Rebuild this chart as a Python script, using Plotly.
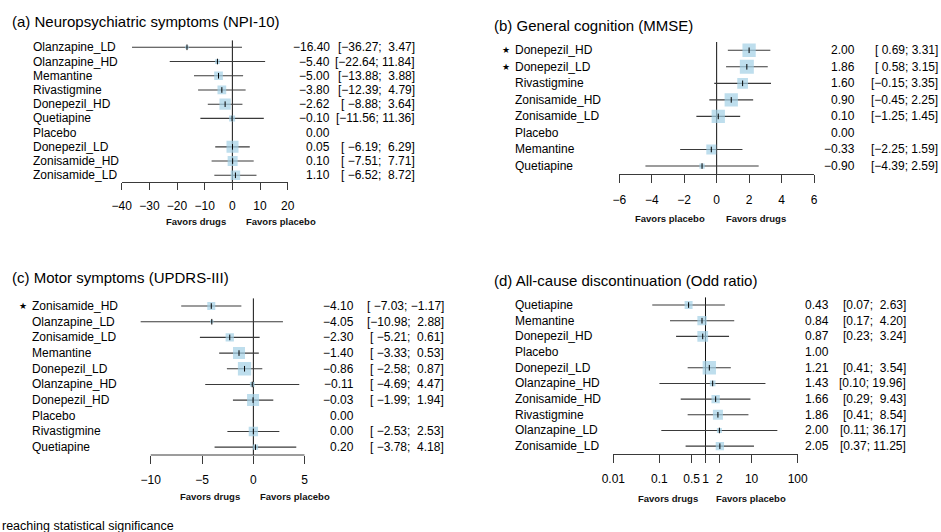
import plotly.graph_objects as go

W, H = 941, 532
FONT = "Liberation Sans, Arial, sans-serif"
BOX_COLOR = "#a3d0e6"
LINE_COLOR = "#3a3a3a"

# ---------------- data ----------------
# (a) Neuropsychiatric symptoms (NPI-10), mean difference vs placebo
labels_a = ["Olanzapine_LD", "Olanzapine_HD", "Memantine", "Rivastigmine", "Donepezil_HD",
            "Quetiapine", "Placebo", "Donepezil_LD", "Zonisamide_HD", "Zonisamide_LD"]
est_a = [-16.40, -5.40, -5.00, -3.80, -2.62, -0.10, 0.00, 0.05, 0.10, 1.10]
lo_a = [-36.27, -22.64, -13.88, -12.39, -8.88, -11.56, None, -6.19, -7.51, -6.52]
hi_a = [3.47, 11.84, 3.88, 4.79, 3.64, 11.36, None, 6.29, 7.71, 8.72]
sig_a = [False] * 10

# (b) General cognition (MMSE)
labels_b = ["Donepezil_HD", "Donepezil_LD", "Rivastigmine", "Zonisamide_HD", "Zonisamide_LD",
            "Placebo", "Memantine", "Quetiapine"]
est_b = [2.00, 1.86, 1.60, 0.90, 0.10, 0.00, -0.33, -0.90]
lo_b = [0.69, 0.58, -0.15, -0.45, -1.25, None, -2.25, -4.39]
hi_b = [3.31, 3.15, 3.35, 2.25, 1.45, None, 1.59, 2.59]
sig_b = [True, True, False, False, False, False, False, False]

# (c) Motor symptoms (UPDRS-III)
labels_c = ["Zonisamide_HD", "Olanzapine_LD", "Zonisamide_LD", "Memantine", "Donepezil_LD",
            "Olanzapine_HD", "Donepezil_HD", "Placebo", "Rivastigmine", "Quetiapine"]
est_c = [-4.10, -4.05, -2.30, -1.40, -0.86, -0.11, -0.03, 0.00, 0.00, 0.20]
lo_c = [-7.03, -10.98, -5.21, -3.33, -2.58, -4.69, -1.99, None, -2.53, -3.78]
hi_c = [-1.17, 2.88, 0.61, 0.53, 0.87, 4.47, 1.94, None, 2.53, 4.18]
sig_c = [True] + [False] * 9

# (d) All-cause discontinuation (odds ratio)
labels_d = ["Quetiapine", "Memantine", "Donepezil_HD", "Placebo", "Donepezil_LD",
            "Olanzapine_HD", "Zonisamide_HD", "Rivastigmine", "Olanzapine_LD", "Zonisamide_LD"]
est_d = [0.43, 0.84, 0.87, 1.00, 1.21, 1.43, 1.66, 1.86, 2.00, 2.05]
lo_d = [0.07, 0.17, 0.23, None, 0.41, 0.10, 0.29, 0.41, 0.11, 0.37]
hi_d = [2.63, 4.20, 3.24, None, 3.54, 19.96, 9.43, 8.54, 36.17, 11.25]
sig_d = [False] * 10

# square side lengths (px), proportional to study weight
box_a = [3.5, 4.7, 8.7, 8.7, 11.3, 6, 0, 12, 10, 9.5]
box_b = [13.3, 14, 10.7, 13.3, 13.3, 0, 10, 5.3]
box_c = [8, 3.3, 8.3, 12, 13.3, 4.7, 12, 0, 9.3, 5.3]
box_d = [8, 9.3, 10.7, 0, 13.3, 5.7, 8.3, 10, 5, 8.3]

ticks_a = [-40, -30, -20, -10, 0, 10, 20]
ticks_b = [-6, -4, -2, 0, 2, 4, 6]
ticks_c = [-10, -5, 0, 5]
ticks_d = [0.01, 0.1, 0.5, 1, 2, 10, 100]
ticktext_d = ["0.01", "0.1", "0.5", "1", "2", "10", "100"]

footnote = "reaching statistical significance"


def px(x):
    return x / W


def py(y):
    return 1 - y / H


def num(v):
    return f"{v:.2f}".replace("-", "\u2212")


def ci_strings(lo, hi):
    vals_lo = [num(v) for v in lo if v is not None]
    vals_hi = [num(v) for v in hi if v is not None]
    wl = max(len(s) for s in vals_lo)
    wh = max(len(s) for s in vals_hi)
    out = []
    for a, b in zip(lo, hi):
        if a is None:
            out.append("")
            continue
        sa, sb = num(a), num(b)
        sa = "\u00a0" * (wl - len(sa)) + sa
        sb = "\u00a0" * (wh - len(sb)) + sb
        out.append(f"[{sa};\u00a0{sb}]")
    return out


panels = [
    dict(title="(a) Neuropsychiatric symptoms (NPI-10)", labels=labels_a, est=est_a, lo=lo_a,
         hi=hi_a, sig=sig_a, box=box_a, ref=0, log=False, xrange=[-40, 20], xpx=(121.7, 287.7),
         ticks=ticks_a, ticktext=None, ytop=40.2, ybot=182.4, label_x=31.5, est_r=330.5,
         ci_r=415.5, title_xy=(10, 21), ticklen=7, standoff=5,
         favors=(("Favors drugs", 226.5), ("Favors placebo", 245), 221.5), axis_shape=False),
    dict(title="(b) General cognition (MMSE)", labels=labels_b, est=est_b, lo=lo_b, hi=hi_b,
         sig=sig_b, box=box_b, ref=0, log=False, xrange=[-6, 6], xpx=(619.3, 814.0),
         ticks=ticks_b, ticktext=None, ytop=42.0, ybot=174.3, label_x=514.3, est_r=856,
         ci_r=938.5, title_xy=(491.7, 25.5), ticklen=8, standoff=6,
         favors=(("Favors placebo", 705.5), ("Favors drugs", 725), 219), axis_shape=False),
    dict(title="(c) Motor symptoms (UPDRS-III)", labels=labels_c, est=est_c, lo=lo_c, hi=hi_c,
         sig=sig_c, box=box_c, ref=0, log=False, xrange=[-11.2, 5], xpx=(138.4, 304.7),
         ticks=ticks_c, ticktext=None, ytop=298.2, ybot=455.0, label_x=30.7, est_r=354.5,
         ci_r=444.5, title_xy=(9.5, 277.5), ticklen=8, standoff=6,
         favors=(("Favors drugs", 241), ("Favors placebo", 259), 496), axis_shape=True),
    dict(title="(d) All-cause discontinuation (Odd ratio)", labels=labels_d, est=est_d, lo=lo_d,
         hi=hi_d, sig=sig_d, box=box_d, ref=1, log=True, xrange=[-2, 2], xpx=(613.3, 797.7),
         ticks=ticks_d, ticktext=ticktext_d, ytop=297.2, ybot=454.0, label_x=514.3, est_r=829.5,
         ci_r=907, title_xy=(491.7, 280), ticklen=8, standoff=6,
         favors=(("Favors drugs", 698.5), ("Favors placebo", 715), 498.7), axis_shape=False),
]

fig = go.Figure()
annotations = []
shapes = []
layout_axes = {}

for i, p in enumerate(panels, start=1):
    sx = "" if i == 1 else str(i)
    xname, yname = "x" + sx, "y" + sx
    n = len(p["labels"])
    rows = list(range(n))

    # reference line (no effect)
    fig.add_trace(go.Scatter(x=[p["ref"], p["ref"]], y=[-0.5, n - 0.5], mode="lines",
                             line=dict(color="#111111", width=1), xaxis=xname, yaxis=yname,
                             hoverinfo="skip", showlegend=False))

    # confidence intervals
    cx, cy = [], []
    for r, a, b in zip(rows, p["lo"], p["hi"]):
        if a is None:
            continue
        cx += [a, b, None]
        cy += [r, r, None]
    fig.add_trace(go.Scatter(x=cx, y=cy, mode="lines", line=dict(color=LINE_COLOR, width=1.1),
                             xaxis=xname, yaxis=yname, hoverinfo="skip", showlegend=False))

    # weighted squares and centre ticks
    keep = [r for r in rows if p["lo"][r] is not None]
    fig.add_trace(go.Scatter(x=[p["est"][r] for r in keep], y=keep, mode="markers",
                             marker=dict(symbol="square", color=BOX_COLOR,
                                         size=[p["box"][r] for r in keep], line=dict(width=0)),
                             xaxis=xname, yaxis=yname, showlegend=False))
    fig.add_trace(go.Scatter(x=[p["est"][r] for r in keep], y=keep, mode="markers",
                             marker=dict(symbol="line-ns", size=4,
                                         line=dict(color="#000000", width=1)),
                             xaxis=xname, yaxis=yname, hoverinfo="skip", showlegend=False))

    xa = dict(domain=[px(p["xpx"][0]), px(p["xpx"][1])], range=p["xrange"],
              type="log" if p["log"] else "linear", anchor=yname, automargin=False,
              showgrid=False, zeroline=False, showline=not p["axis_shape"],
              linecolor=LINE_COLOR, linewidth=1, ticks="outside", ticklen=p["ticklen"],
              tickwidth=1, tickcolor=LINE_COLOR, tickvals=p["ticks"], tickangle=0,
              tickfont=dict(family=FONT, size=12, color="#000000"),
              ticklabelstandoff=p["standoff"])
    if p["ticktext"] is not None:
        xa["ticktext"] = p["ticktext"]
    ya = dict(domain=[py(p["ybot"]), py(p["ytop"])], range=[n - 0.5, -0.5], anchor=xname,
              visible=False, showgrid=False, zeroline=False, automargin=False)
    layout_axes["xaxis" + sx] = xa
    layout_axes["yaxis" + sx] = ya

    if p["axis_shape"]:
        shapes.append(dict(type="line", xref=xname, yref="paper", x0=p["ticks"][0],
                           x1=p["ticks"][-1], y0=py(p["ybot"]), y1=py(p["ybot"]),
                           line=dict(color=LINE_COLOR, width=1)))

    # panel title
    annotations.append(dict(text=p["title"], xref="paper", yref="paper",
                            x=px(p["title_xy"][0]), y=py(p["title_xy"][1]), xanchor="left",
                            yanchor="middle", showarrow=False,
                            font=dict(family=FONT, size=15, color="#000000")))

    # row labels, estimates and intervals
    cis = ci_strings(p["lo"], p["hi"])
    for r in rows:
        annotations.append(dict(text=p["labels"][r], xref="paper", yref=yname,
                                x=px(p["label_x"]), y=r, xanchor="left", yanchor="middle",
                                showarrow=False, borderpad=0,
                                font=dict(family=FONT, size=12, color="#000000")))
        if p["sig"][r]:
            annotations.append(dict(text="\u2605", xref="paper", yref=yname,
                                    x=px(p["label_x"] - 3), y=r, xanchor="right",
                                    yanchor="middle", showarrow=False, borderpad=0,
                                    font=dict(family="DejaVu Sans", size=9, color="#000000")))
        annotations.append(dict(text=num(p["est"][r]), xref="paper", yref=yname,
                                x=px(p["est_r"]), y=r, xanchor="right", yanchor="middle",
                                showarrow=False, borderpad=0,
                                font=dict(family=FONT, size=12, color="#000000")))
        if cis[r]:
            annotations.append(dict(text=cis[r], xref="paper", yref=yname,
                                    x=px(p["ci_r"]), y=r, xanchor="right", yanchor="middle",
                                    showarrow=False, borderpad=0,
                                    font=dict(family=FONT, size=12, color="#000000")))

    # direction labels under the axis
    (left_txt, left_x), (right_txt, right_x), fy = p["favors"]
    annotations.append(dict(text=f"<b>{left_txt}</b>", xref="paper", yref="paper",
                            x=px(left_x), y=py(fy), xanchor="right", yanchor="middle",
                            showarrow=False, borderpad=0,
                            font=dict(family=FONT, size=9.5, color="#111111")))
    annotations.append(dict(text=f"<b>{right_txt}</b>", xref="paper", yref="paper",
                            x=px(right_x), y=py(fy), xanchor="left", yanchor="middle",
                            showarrow=False, borderpad=0,
                            font=dict(family=FONT, size=9.5, color="#111111")))

# footnote
annotations.append(dict(text=footnote, xref="paper", yref="paper", x=px(0.5), y=py(525.5),
                        xanchor="left", yanchor="middle", showarrow=False, borderpad=0,
                        font=dict(family=FONT, size=12.5, color="#000000")))

fig.update_layout(width=W, height=H, autosize=False,
                  margin=dict(l=0, r=0, t=0, b=0, pad=0),
                  paper_bgcolor="white", plot_bgcolor="white",
                  showlegend=False, annotations=annotations, shapes=shapes,
                  **layout_axes)

fig.write_html("out.html")
